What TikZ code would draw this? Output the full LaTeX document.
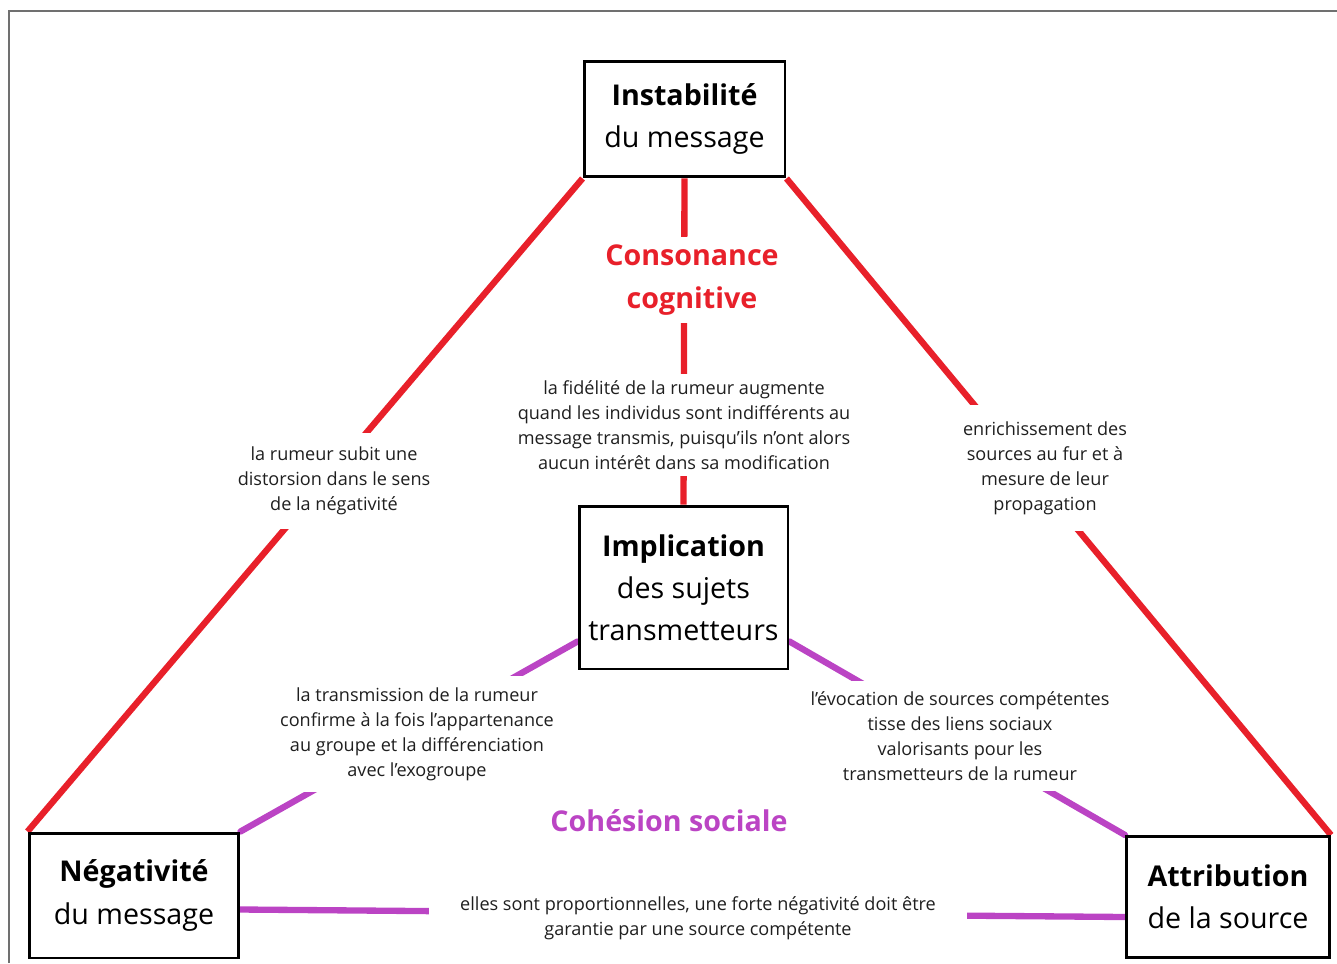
\documentclass[tikz,border=0pt]{standalone}
\usepackage{fontspec}
\setmainfont{Open Sans}
\usetikzlibrary{backgrounds,calc}
\definecolor{rouge}{HTML}{E8202A}
\definecolor{violet}{HTML}{BB44C4}
\definecolor{cadre}{HTML}{707070}
\tikzset{
  pole/.style={draw=black,line width=1.7pt,fill=white,align=center,inner sep=0pt,
    font=\fontsize{16.3}{24}\selectfont},
  lien/.style={fill=white,align=center,inner sep=0pt,text=black!88,
    font=\fontsize{10.3}{14.2}\selectfont},
  rouge trait/.style={rouge,line width=3.6pt},
  violet trait/.style={violet,line width=3.6pt,line cap=round},
  theme/.style={align=center,font=\bfseries\fontsize{16.3}{24}\selectfont}
}
\begin{document}
\begin{tikzpicture}[x=0.02cm,y=-0.02cm]
\useasboundingbox (0,0) rectangle (1337,963);
\draw[cadre,line width=1.1pt] (9,963)--(9,11)--(1337,11);
% les quatre poles
\node[pole,minimum width=4.02cm,minimum height=2.32cm] (inst) at (684.5,119) {\textbf{Instabilité}\\du message};
\node[pole,minimum width=4.18cm,minimum height=3.26cm] (impl) at (683.5,587.5) {\textbf{Implication}\\des sujets\\transmetteurs};
\node[pole,minimum width=4.2cm,minimum height=2.5cm] (neg) at (134,895.5) {\textbf{Négativité}\\du message};
\node[pole,minimum width=4.06cm,minimum height=2.42cm] (attr) at (1228,897) {\textbf{Attribution}\\de la source};
% les textes sur les liens
\node[lien,minimum height=1.94cm] (dist) at (334,481) {la rumeur subit une\\distorsion dans le sens\\de la négativité};
\node[lien,minimum height=2.52cm] (enri) at (1045,468) {enrichissement des\\sources au fur et à\\mesure de leur\\propagation};
\node[lien,minimum height=1.72cm,text=rouge,theme] (cons) at (692,280) {Consonance\\cognitive};
\node[lien,minimum height=2.06cm] (fide) at (684,425) {la fidélité de la rumeur augmente\\quand les individus sont indifférents au\\message transmis, puisqu'ils n'ont alors\\aucun intérêt dans sa modification};
\node[lien,minimum height=2.32cm] (appa) at (417,734) {la transmission de la rumeur\\confirme à la fois l'appartenance\\au groupe et la différenciation\\avec l'exogroupe};
\node[lien,minimum height=2.2cm] (evoc) at (960,736) {l'évocation de sources compétentes\\tisse des liens sociaux\\valorisants pour les\\transmetteurs de la rumeur};
\node[lien,minimum width=10.78cm] (prop) at (698,918) {elles sont proportionnelles, une forte négativité doit être\\garantie par une source compétente};
\node[theme,text=violet] (cohe) at (669,821) {Cohésion sociale};
% les liens
\begin{scope}[on background layer]
\draw[rouge trait] (inst.south west)--(neg.north west);
\draw[rouge trait] (inst.south east)--(attr.north east);
\draw[rouge trait] (inst.south)--(impl.north);
\draw[violet trait] ($(impl.south west)+(0,-29)$)--(neg.north east);
\draw[violet trait] ($(impl.south east)+(0,-29)$)--(attr.north west);
\draw[violet trait] ($(neg.east)+(0,14)$)--($(attr.west)+(0,20)$);
\end{scope}
\end{tikzpicture}
\end{document}
